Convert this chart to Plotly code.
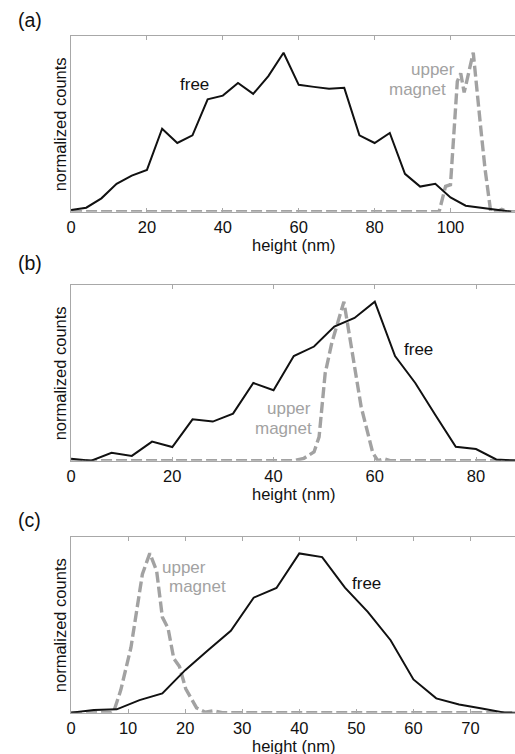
import plotly.graph_objects as go

# ---------------- data ----------------
# panel (a)
a_free_x = [0, 4, 8, 12, 16, 20, 24, 28, 32, 36, 40, 44, 48, 52, 56, 60, 64, 68, 72, 76, 80, 84, 88, 92, 96, 100, 104, 108, 112, 116]
a_free_y = [0.01, 0.025, 0.084, 0.175, 0.227, 0.263, 0.522, 0.432, 0.48, 0.707, 0.73, 0.81, 0.741, 0.853, 1.0, 0.798, 0.785, 0.773, 0.779, 0.48, 0.432, 0.495, 0.238, 0.158, 0.175, 0.09, 0.038, 0.025, 0.01, 0.0]
a_mag_x = [0, 97, 98.7, 100, 101.8, 102.7, 103.6, 106, 108, 109.1, 110.6, 112, 113.5, 115, 117]
a_mag_y = [0, 0, 0.16, 0.17, 0.82, 0.87, 0.75, 1.0, 0.52, 0.27, 0, 0, 0.015, 0, 0]

# panel (b)
b_free_x = [0, 4, 8, 12, 16, 20, 24, 28, 32, 36, 40, 44, 48, 52, 56, 60, 64, 68, 72, 76, 80, 84, 88]
b_free_y = [0.013, 0, 0.05, 0.03, 0.12, 0.086, 0.26, 0.246, 0.296, 0.489, 0.443, 0.658, 0.718, 0.843, 0.898, 1.0, 0.658, 0.489, 0.286, 0.088, 0.073, 0.008, 0]
b_mag_x = [0, 44, 46, 48, 49, 50.2, 51.5, 53.9, 55.4, 57.3, 59.6, 60.6, 61.9, 63, 88]
b_mag_y = [0, 0, 0.015, 0.055, 0.15, 0.55, 0.74, 1.0, 0.71, 0.34, 0.05, 0, 0.012, 0, 0]

# panel (c)
c_free_x = [0, 4, 8, 12, 16, 20, 24, 28, 32, 36, 40, 44, 48, 52, 56, 60, 64, 68, 72, 76, 80]
c_free_y = [0, 0.017, 0.021, 0.079, 0.121, 0.267, 0.392, 0.514, 0.722, 0.783, 1.0, 0.977, 0.785, 0.633, 0.455, 0.209, 0.09, 0.052, 0.027, 0, 0]
c_mag_x = [0, 7, 7.5, 8.7, 10.5, 12.5, 13.8, 15, 16, 17, 18, 19, 20.1, 22, 23.5, 25, 26.5, 80]
c_mag_y = [0, 0, 0.01, 0.14, 0.41, 0.87, 1.0, 0.89, 0.6, 0.53, 0.34, 0.29, 0.15, 0.03, 0.003, 0.012, 0, 0]

panel_labels = ["(a)", "(b)", "(c)"]
x_ranges = [[0, 117], [0, 87.7], [0, 77.8]]
x_ticks = [[0, 20, 40, 60, 80, 100], [0, 20, 40, 60, 80], [0, 10, 20, 30, 40, 50, 60, 70]]
x_title = "height (nm)"
y_title = "normalized counts"

# ---------------- style ----------------
W, H = 515, 754
FONT = "Liberation Sans, Arial, sans-serif"
BLACK = "#111111"
GRAY = "#a2a2a2"
AXC = "#a8a8a8"
# panel pixel geometry (top, bottom) in px from the top of the page
panels_px = [(36, 211.7), (285, 460.7), (536.7, 712.7)]
left_px = 66.7

fig = go.Figure()
layout = dict(
    width=W, height=H,
    margin=dict(l=0, r=0, t=0, b=0),
    paper_bgcolor="white", plot_bgcolor="white",
    showlegend=False,
    font=dict(family=FONT, size=16, color=BLACK),
)

series = [(a_free_x, a_free_y, a_mag_x, a_mag_y),
          (b_free_x, b_free_y, b_mag_x, b_mag_y),
          (c_free_x, c_free_y, c_mag_x, c_mag_y)]

annotations = []
for i, (fx, fy, mx, my) in enumerate(series):
    n = "" if i == 0 else str(i + 1)
    xa, ya = "x" + n, "y" + n
    fig.add_trace(go.Scatter(x=mx, y=my, mode="lines", xaxis=xa, yaxis=ya,
                             line=dict(color=GRAY, width=3.4, dash="11px,4px")))
    fig.add_trace(go.Scatter(x=fx, y=fy, mode="lines", xaxis=xa, yaxis=ya,
                             line=dict(color=BLACK, width=2)))
    top, bot = panels_px[i]
    layout["xaxis" + n] = dict(
        domain=[left_px / W, 1], anchor=ya, range=x_ranges[i],
        tickvals=x_ticks[i], ticks="inside", ticklen=4, tickcolor=AXC,
        showline=True, linecolor=AXC, linewidth=1, mirror="ticks",
        showgrid=False, zeroline=False, tickfont=dict(size=16.5, color=BLACK),
        fixedrange=True,
    )
    layout["yaxis" + n] = dict(
        domain=[1 - bot / H, 1 - top / H], anchor=xa, range=[0, 1.105],
        showticklabels=False, ticks="", showline=True, linecolor=AXC,
        linewidth=1, mirror=False, showgrid=False, zeroline=False,
        fixedrange=True,
    )
    # y title
    annotations.append(dict(text=y_title, textangle=-90, xref="paper", yref="paper",
                            x=55 / W, y=1 - (top + bot) / 2 / H, showarrow=False,
                            xanchor="center", yanchor="middle",
                            font=dict(size=16.5, color=BLACK)))
    # x title
    annotations.append(dict(text=x_title, xref="paper", yref="paper",
                            x=(left_px + W) / 2 / W, y=1 - (bot + 33) / H, showarrow=False,
                            xanchor="center", yanchor="middle",
                            font=dict(size=16.5, color=BLACK)))

# panel labels
for lab, ypx in zip(panel_labels, [20, 263, 520]):
    annotations.append(dict(text=lab, xref="paper", yref="paper", x=25 / W, y=1 - ypx / H,
                            showarrow=False, xanchor="center", yanchor="middle",
                            font=dict(size=19.5, color=BLACK)))

# curve labels
curve_labels = [
    ("free", "x", "y", 32.6, 0.80, BLACK),
    ("upper", "x", "y", 95.4, 0.893, GRAY),
    ("magnet", "x", "y", 91.3, 0.767, GRAY),
    ("free", "x2", "y2", 68.7, 0.70, BLACK),
    ("upper", "x2", "y2", 43.1, 0.33, GRAY),
    ("magnet", "x2", "y2", 41.9, 0.20, GRAY),
    ("free", "x3", "y3", 51.8, 0.81, BLACK),
    ("upper", "x3", "y3", 19.8, 0.91, GRAY),
    ("magnet", "x3", "y3", 22.1, 0.79, GRAY),
]
for t, xr, yr, x, y, c in curve_labels:
    annotations.append(dict(text=t, xref=xr, yref=yr, x=x, y=y, showarrow=False,
                            xanchor="center", yanchor="middle",
                            font=dict(size=17, color=c)))

layout["annotations"] = annotations
fig.update_layout(**layout)
fig.write_html("out.html")
